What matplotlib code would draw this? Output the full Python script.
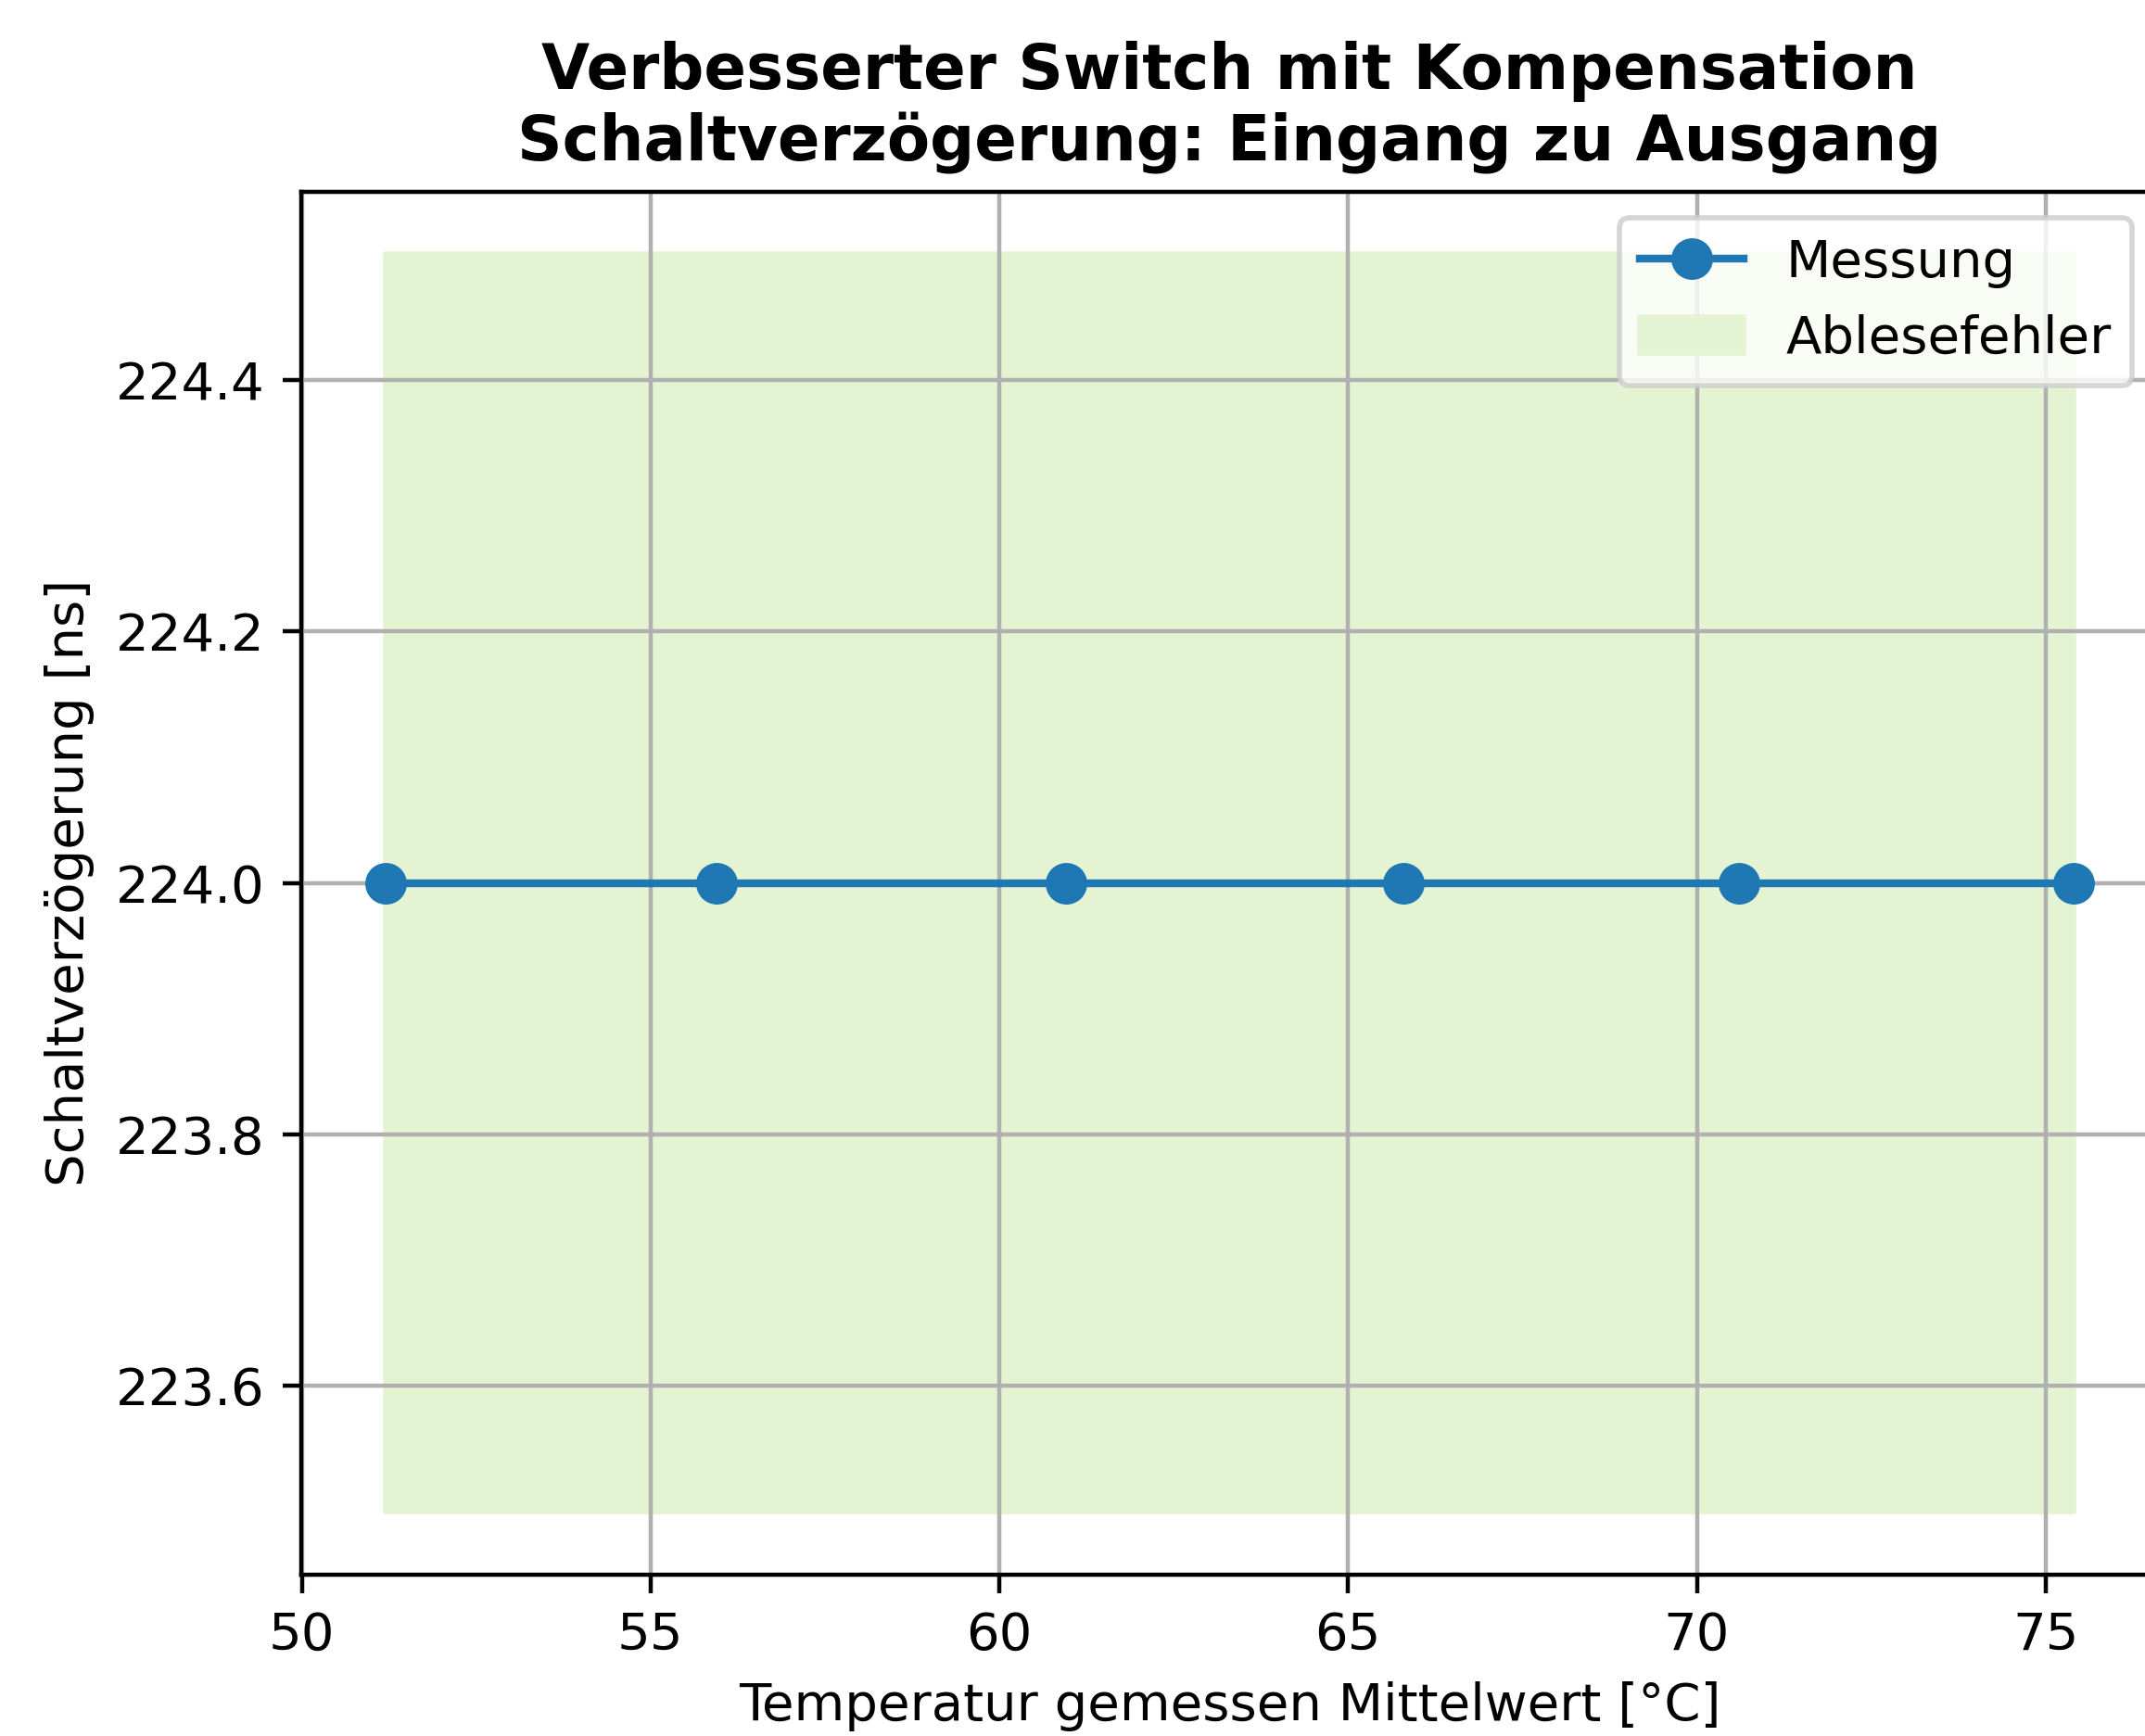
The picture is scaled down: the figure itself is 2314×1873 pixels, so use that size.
import numpy as np
import matplotlib
matplotlib.use("Agg")
import matplotlib.pyplot as plt

# Messwerte: mittlere Temperatur und Schaltverzögerung
temperatur = [51.2, 55.95, 60.95, 65.8, 70.6, 75.4]
verzoegerung = [224.0, 224.0, 224.0, 224.0, 224.0, 224.0]
ablesefehler = 0.5

dpi = 404
fig = plt.figure(figsize=(2314 / dpi, 1873 / dpi), dpi=dpi)
ax = fig.add_axes([0.1404, 0.0931, 0.8656, 0.7966])

ax.plot(temperatur, verzoegerung, marker='o', linewidth=1.5, markersize=7,
        color='#1f77b4', label='Messung')
ax.fill_between(temperatur,
                np.array(verzoegerung) - ablesefehler,
                np.array(verzoegerung) + ablesefehler,
                color='#e4f4d2', label='Ablesefehler')

ax.set_title('Verbesserter Switch mit Kompensation\n'
             'Schaltverzögerung: Eingang zu Ausgang',
             fontsize=12, fontweight='bold')
ax.set_xlabel('Temperatur gemessen Mittelwert [°C]', fontsize=10)
ax.set_ylabel('Schaltverzögerung [ns]', fontsize=10)
ax.tick_params(labelsize=10)
ax.grid(True)
ax.legend(loc='upper right', fontsize=10)

fig.savefig('out.png', dpi=dpi)
